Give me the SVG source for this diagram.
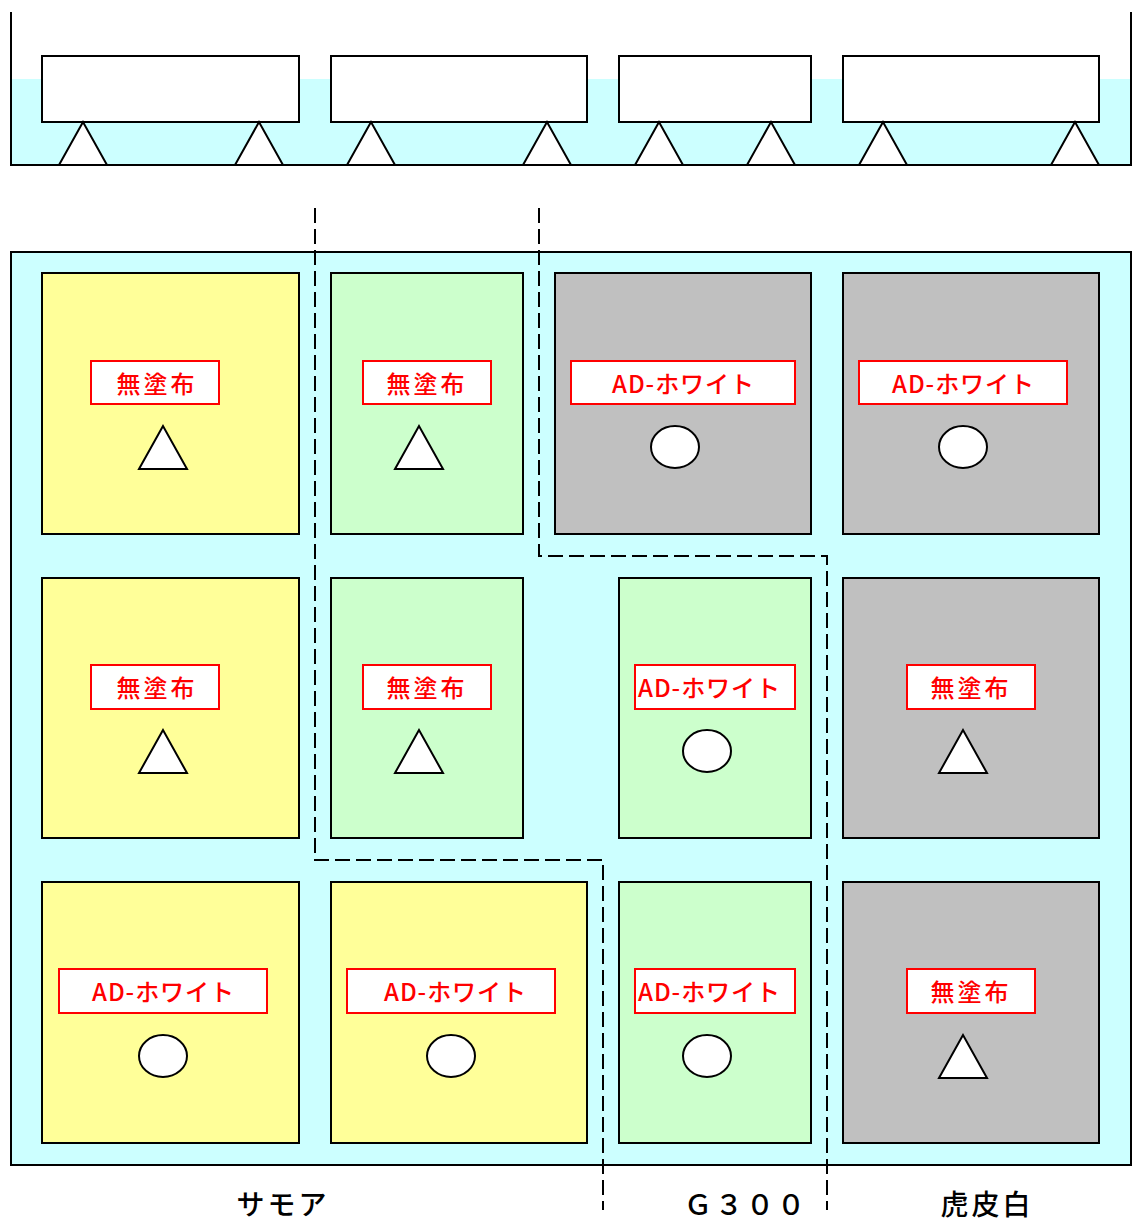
<svg xmlns="http://www.w3.org/2000/svg" width="1135" height="1224" viewBox="0 0 1135 1224">
<style>
.ln{stroke:#000;stroke-width:2;fill:none}
.box{stroke:#000;stroke-width:2;fill:#fff}
.y{fill:#FFFF99;stroke:#000;stroke-width:2}
.g{fill:#CCFFCC;stroke:#000;stroke-width:2}
.k{fill:#C0C0C0;stroke:#000;stroke-width:2}
.lb{fill:#fff;stroke:#FF0000;stroke-width:2}
.lt{font-family:"Noto Sans CJK JP","Noto Sans",sans-serif;font-size:24px;font-weight:500;fill:#FF0000;text-anchor:middle;dominant-baseline:central}
.mk{fill:#fff;stroke:#000;stroke-width:2}
.bt{font-family:"Noto Sans CJK JP",sans-serif;font-size:28px;font-weight:500;fill:#000;text-anchor:middle}
.dash{stroke:#000;stroke-width:2;fill:none;stroke-dasharray:15 6}
</style>
<rect width="1135" height="1224" fill="#fff"/>
<g id="tank">
<rect x="11" y="79" width="1120" height="86" fill="#CCFFFF"/>
<polyline class="ln" points="11,12 11,165 1131,165 1131,12"/>
<rect class="box" x="42" y="56" width="257" height="66"/>
<rect class="box" x="331" y="56" width="256" height="66"/>
<rect class="box" x="619" y="56" width="192" height="66"/>
<rect class="box" x="843" y="56" width="256" height="66"/>
<polygon class="mk" points="83,122 59,165 107,165"/>
<polygon class="mk" points="259,122 235,165 283,165"/>
<polygon class="mk" points="371,122 347,165 395,165"/>
<polygon class="mk" points="547,122 523,165 571,165"/>
<polygon class="mk" points="659,122 635,165 683,165"/>
<polygon class="mk" points="771,122 747,165 795,165"/>
<polygon class="mk" points="883,122 859,165 907,165"/>
<polygon class="mk" points="1075,122 1051,165 1099,165"/>
</g>
<g id="field">
<rect x="11" y="252" width="1120" height="913" fill="#CCFFFF" stroke="#000" stroke-width="2"/>
</g>
<g id="r1c1"><rect class="y" x="42" y="273" width="257" height="261"/><rect class="lb" x="91" y="361" width="128" height="43"/><text class="lt" x="157" y="382" letter-spacing="3">無塗布</text><polygon class="mk" points="163,426 139,469 187,469"/></g>
<g id="r1c2"><rect class="g" x="331" y="273" width="192" height="261"/><rect class="lb" x="363" y="361" width="128" height="43"/><text class="lt" x="427" y="382" letter-spacing="3">無塗布</text><polygon class="mk" points="419,426 395,469 443,469"/></g>
<g id="r1c3"><rect class="k" x="555" y="273" width="256" height="261"/><rect class="lb" x="571" y="361" width="224" height="43"/><text class="lt" x="683" y="382" textLength="142" lengthAdjust="spacing">AD-ホワイト</text><ellipse class="mk" cx="675" cy="447" rx="24" ry="21"/></g>
<g id="r1c4"><rect class="k" x="843" y="273" width="256" height="261"/><rect class="lb" x="859" y="361" width="208" height="43"/><text class="lt" x="963" y="382" textLength="142" lengthAdjust="spacing">AD-ホワイト</text><ellipse class="mk" cx="963" cy="447" rx="24" ry="21"/></g>
<g id="r2c1"><rect class="y" x="42" y="578" width="257" height="260"/><rect class="lb" x="91" y="665" width="128" height="44"/><text class="lt" x="157" y="686" letter-spacing="3">無塗布</text><polygon class="mk" points="163,730 139,773 187,773"/></g>
<g id="r2c2"><rect class="g" x="331" y="578" width="192" height="260"/><rect class="lb" x="363" y="665" width="128" height="44"/><text class="lt" x="427" y="686" letter-spacing="3">無塗布</text><polygon class="mk" points="419,730 395,773 443,773"/></g>
<g id="r2c3"><rect class="g" x="619" y="578" width="192" height="260"/><rect class="lb" x="635" y="665" width="160" height="44"/><text class="lt" x="709" y="686" textLength="142" lengthAdjust="spacing">AD-ホワイト</text><ellipse class="mk" cx="707" cy="751" rx="24" ry="21"/></g>
<g id="r2c4"><rect class="k" x="843" y="578" width="256" height="260"/><rect class="lb" x="907" y="665" width="128" height="44"/><text class="lt" x="971" y="686" letter-spacing="3">無塗布</text><polygon class="mk" points="963,730 939,773 987,773"/></g>
<g id="r3c1"><rect class="y" x="42" y="882" width="257" height="261"/><rect class="lb" x="59" y="969" width="208" height="44"/><text class="lt" x="163" y="990" textLength="142" lengthAdjust="spacing">AD-ホワイト</text><ellipse class="mk" cx="163" cy="1056" rx="24" ry="21"/></g>
<g id="r3c2"><rect class="y" x="331" y="882" width="256" height="261"/><rect class="lb" x="347" y="969" width="208" height="44"/><text class="lt" x="455" y="990" textLength="142" lengthAdjust="spacing">AD-ホワイト</text><ellipse class="mk" cx="451" cy="1056" rx="24" ry="21"/></g>
<g id="r3c3"><rect class="g" x="619" y="882" width="192" height="261"/><rect class="lb" x="635" y="969" width="160" height="44"/><text class="lt" x="709" y="990" textLength="142" lengthAdjust="spacing">AD-ホワイト</text><ellipse class="mk" cx="707" cy="1056" rx="24" ry="21"/></g>
<g id="r3c4"><rect class="k" x="843" y="882" width="256" height="261"/><rect class="lb" x="907" y="969" width="128" height="44"/><text class="lt" x="971" y="990" letter-spacing="3">無塗布</text><polygon class="mk" points="963,1035 939,1078 987,1078"/></g>
<g id="connectors">
<polyline class="dash" points="315,208 315,860 603,860 603,1210"/>
<polyline class="dash" points="539,208 539,556 827,556 827,1210"/>
</g>
<g id="legend">
<text class="bt" x="283" y="1215" letter-spacing="3">サモア</text>
<text class="bt" x="746" y="1215" letter-spacing="3">Ｇ３００</text>
<text class="bt" x="987" y="1215" letter-spacing="3">虎皮白</text>
</g>
</svg>
